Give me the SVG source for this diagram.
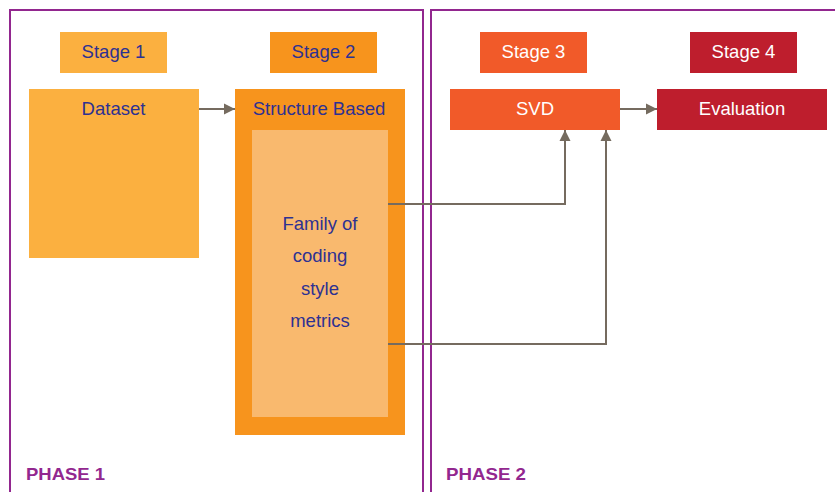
<svg xmlns="http://www.w3.org/2000/svg" width="835" height="492" viewBox="0 0 835 492">
<defs>
<style>
.phase{fill:none;stroke:#92278f;stroke-width:2}
.pl{font-family:"Liberation Sans",Arial,sans-serif;font-weight:bold;font-size:17px;fill:#92278f}
.t{font-family:"Liberation Sans",Arial,sans-serif;font-size:18.5px;text-anchor:middle}
.dk{fill:#2e3192}
.wh{fill:#ffffff}
.c{fill:none;stroke:#756b5f;stroke-width:2}
</style>
<marker id="ah" viewBox="0 0 10 10" refX="10" refY="5" markerWidth="5.5" markerHeight="6" orient="auto" markerUnits="strokeWidth">
<path d="M0,0 L10,5 L0,10 z" fill="#756b5f"/>
</marker>
</defs>
<rect width="835" height="492" fill="#ffffff"/>
<g id="phase1">
<path class="phase" d="M10,494 V10 H423 V494"/>
<text class="pl" x="26" y="480" textLength="79" lengthAdjust="spacingAndGlyphs">PHASE 1</text>
</g>
<g id="phase2">
<path class="phase" d="M431,494 V10 H837"/>
<text class="pl" x="446" y="480" textLength="80" lengthAdjust="spacingAndGlyphs">PHASE 2</text>
</g>
<g id="stage1">
<rect x="60" y="32" width="107" height="41" fill="#fbb040"/>
<text class="t dk" x="113.5" y="58">Stage 1</text>
</g>
<g id="stage2">
<rect x="270" y="32" width="107" height="41" fill="#f7941d"/>
<text class="t dk" x="323.5" y="58">Stage 2</text>
</g>
<g id="stage3">
<rect x="480" y="32" width="107" height="41" fill="#f15a29"/>
<text class="t wh" x="533.5" y="58">Stage 3</text>
</g>
<g id="stage4">
<rect x="690" y="32" width="107" height="41" fill="#be1e2d"/>
<text class="t wh" x="743.5" y="58">Stage 4</text>
</g>
<g id="dataset">
<rect x="29" y="89" width="170" height="169" fill="#fbb040"/>
<text class="t dk" x="113.5" y="115">Dataset</text>
</g>
<g id="structure">
<rect x="235" y="89" width="170" height="346" fill="#f7941d"/>
<text class="t dk" x="319" y="115">Structure Based</text>
</g>
<g id="metrics">
<rect x="252" y="130" width="136" height="287" fill="#f9b96e"/>
<text class="t dk" x="320" y="230">Family of</text>
<text class="t dk" x="320" y="262">coding</text>
<text class="t dk" x="320" y="295">style</text>
<text class="t dk" x="320" y="327">metrics</text>
</g>
<g id="svd">
<rect x="450" y="89" width="170" height="41" fill="#f15a29"/>
<text class="t wh" x="535" y="115">SVD</text>
</g>
<g id="evaluation">
<rect x="657" y="89" width="170" height="41" fill="#be1e2d"/>
<text class="t wh" x="742" y="115">Evaluation</text>
</g>
<g id="connectors">
<path class="c" d="M199,109 H235" marker-end="url(#ah)"/>
<path class="c" d="M620,109 H657" marker-end="url(#ah)"/>
<path class="c" d="M388,204 H565 V130" marker-end="url(#ah)"/>
<path class="c" d="M388,344 H606 V130" marker-end="url(#ah)"/>
</g>
</svg>
